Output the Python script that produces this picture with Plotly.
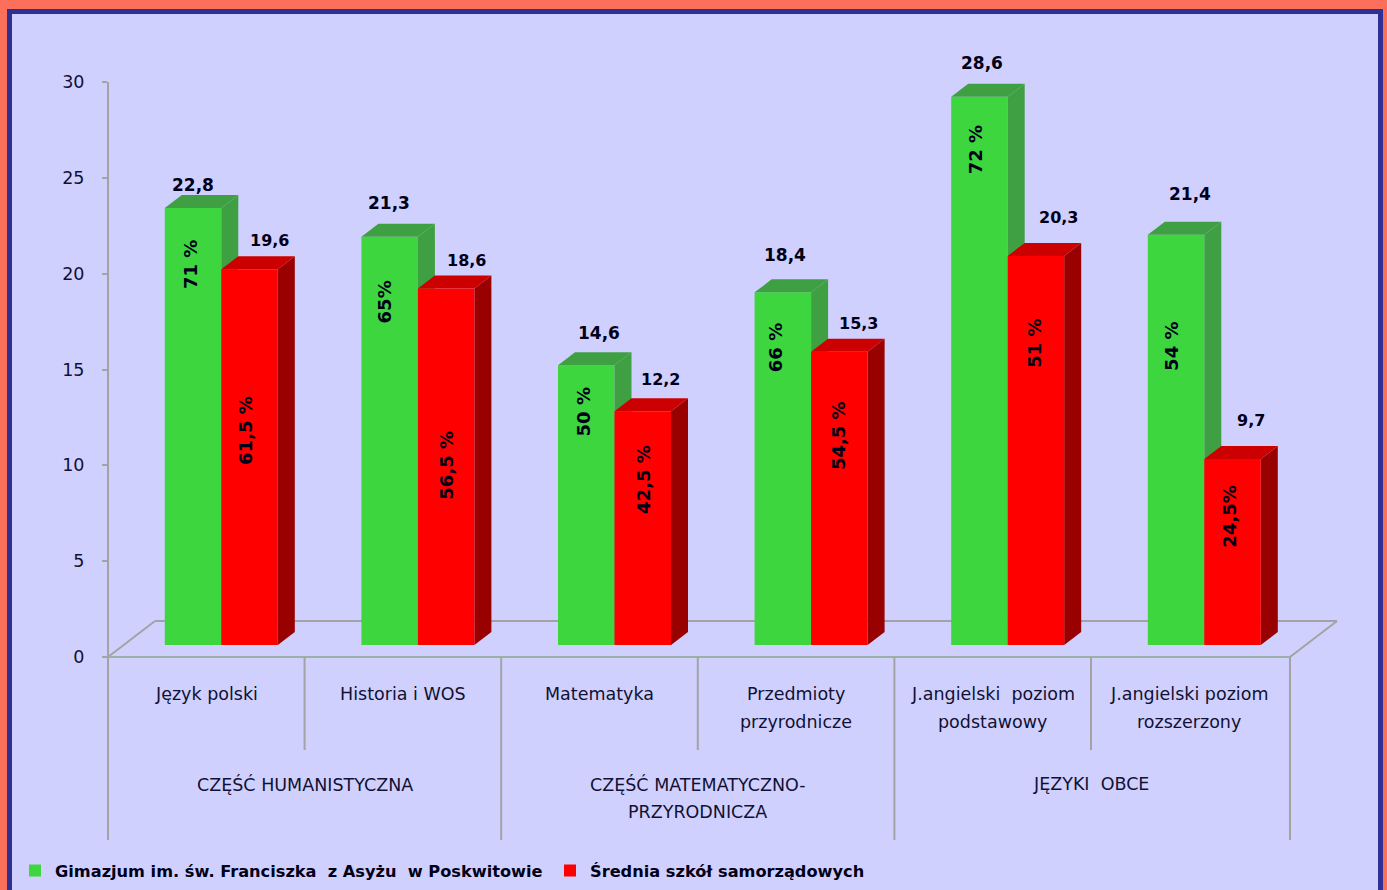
import plotly.graph_objects as go

# ---------- data ----------
categories = [["Język polski"], ["Historia i WOS"], ["Matematyka"],
              ["Przedmioty", "przyrodnicze"], ["J.angielski  poziom", "podstawowy"],
              ["J.angielski poziom", "rozszerzony"]]
groups = [["CZĘŚĆ HUMANISTYCZNA"], ["CZĘŚĆ MATEMATYCZNO-", "PRZYRODNICZA"], ["JĘZYKI  OBCE"]]
series_names = ["Gimazjum im. św. Franciszka  z Asyżu  w Poskwitowie", "Średnia szkół samorządowych"]
school_values = [22.8, 21.3, 14.6, 18.4, 28.6, 21.4]
average_values = [19.6, 18.6, 12.2, 15.3, 20.3, 9.7]
school_value_text = ["22,8", "21,3", "14,6", "18,4", "28,6", "21,4"]
average_value_text = ["19,6", "18,6", "12,2", "15,3", "20,3", "9,7"]
school_pct = ["71 %", "65%", "50 %", "66 %", "72 %", "54 %"]
average_pct = ["61,5 %", "56,5 %", "42,5 %", "54,5 %", "51 %", "24,5%"]
y_ticks = [0, 5, 10, 15, 20, 25, 30]

# ---------- label placement (pixel nudges relative to each bar) ----------
school_val_nudge = [(0, 23), (-1, 34), (13, 32), (2, 37), (3, 34), (14, 41)]
average_val_nudge = [(20, 29), (20, 28), (18, 32), (19, 28), (23, 38), (18, 39)]
school_pct_nudge = [(-3, -57), (-5, -65), (-3, -47), (-8, -55), (-4, -53), (-4, -112)]
average_pct_nudge = [(-4, -161), (0, -177), (0, -68), (-1, -84), (-1, -87), (-3, -58)]

# ---------- style / geometry ----------
W, H = 1387, 890
SALMON, NAVY, LAVENDER, GREY = "#FB6F5B", "#2F3093", "#D0D0FF", "#A3A3A3"
GREEN, GREEN_SIDE, GREEN_TOP = "#3DD63F", "#3FA043", "#3FA043"
RED, RED_SIDE, RED_TOP = "#FF0000", "#990000", "#CC0000"
TXT = "#111133"
FONT = "DejaVu Sans"
CAT_W = 196.6                            # pixel width of one category
X0, Y0, Y1 = 108, 657, 82                # primary plot box in pixels
X1 = X0 + 6 * CAT_W
FLOOR_RIGHT = 1290
SHIFT_X, SHIFT_Y = 15, 12                # front plane of bars vs. axis box
DEPTH_X, DEPTH_Y = 17, 13                # bar depth
FLOOR_X, FLOOR_Y = 47, 36
unit_y = (Y0 - Y1) / 30
BAR_W = 56.5 / CAT_W
dx, dy = DEPTH_X / CAT_W, DEPTH_Y / unit_y


def px(x):
    return x / W


def py(y):
    return 1 - y / H


fig = go.Figure()


def add_face(xs, ys, color, z):
    fig.add_trace(go.Scatter(x=xs, y=ys, mode="lines", fill="toself", fillcolor=color,
                             line=dict(width=0, color=color), hoverinfo="skip", showlegend=False,
                             xaxis="x2", yaxis="y2", zorder=z))


def add_box_faces(left, value, side_color, top_color, z):
    right = left + BAR_W
    add_face([right, right + dx, right + dx, right],
             [0, dy, value + dy, value], side_color, z)
    add_face([left, left + dx, right + dx, right],
             [value, value + dy, value + dy, value], top_color, z)


centers = [i + 0.5 for i in range(6)]
for c, a, b in zip(centers, school_values, average_values):
    add_box_faces(c - BAR_W, a, GREEN_SIDE, GREEN_TOP, 1)
    add_box_faces(c, b, RED_SIDE, RED_TOP, 2)

fig.add_trace(go.Bar(x=centers, y=school_values, name=series_names[0], marker=dict(color=GREEN, line_width=0),
                     xaxis="x2", yaxis="y2", zorder=0))
fig.add_trace(go.Bar(x=centers, y=average_values, name=series_names[1], marker=dict(color=RED, line_width=0),
                     xaxis="x2", yaxis="y2", zorder=3))

# ---------- shapes ----------
shapes = [dict(type="rect", xref="paper", yref="paper", x0=px(9.5), x1=px(1380.5), y0=py(11.5), y1=py(900),
               line=dict(color=NAVY, width=5), fillcolor=LAVENDER, layer="below")]


def line(x0, y0, x1, y1, color=GREY, width=2):
    shapes.append(dict(type="line", xref="paper", yref="paper", x0=px(x0), x1=px(x1), y0=py(y0), y1=py(y1),
                       line=dict(color=color, width=width), layer="below"))


# floor
line(X0, Y0, X0 + FLOOR_X, Y0 - FLOOR_Y)
line(X0 + FLOOR_X, Y0 - FLOOR_Y, FLOOR_RIGHT + FLOOR_X, Y0 - FLOOR_Y)
line(FLOOR_RIGHT, Y0, FLOOR_RIGHT + FLOOR_X, Y0 - FLOOR_Y)
line(X0, Y0, FLOOR_RIGHT, Y0, color="#9DB0A8")
# value axis and category separators
line(X0, Y1, X0, 840)
for i in range(1, 6):
    sep = X0 + i * CAT_W
    line(sep, Y0, sep, 840 if i % 2 == 0 else 750)
line(FLOOR_RIGHT, Y0, FLOOR_RIGHT, 840)

# ---------- annotations ----------
annotations = []


def note(text, x, y, size=17.5, color=TXT):
    annotations.append(dict(text=text, x=x, y=py(y), xref="x", yref="paper",
                            showarrow=False, xanchor="center", yanchor="middle",
                            font=dict(family=FONT, size=size, color=color)))


for c, lines in zip(centers, categories):
    for k, t in enumerate(lines):
        note(t, c, 694 + 28 * k)
for g, lines in zip([1, 3, 5], groups):
    for k, t in enumerate(lines):
        note(t, g, 784 + 28 * k)


def bar_labels(values, texts, nudges, bar_offset, size, bold=False, angle=0, color="#000018"):
    for c, v, t, (nx, ny) in zip(centers, values, texts, nudges):
        annotations.append(dict(text=f"<b>{t}</b>" if bold else t, x=c + bar_offset, y=v, xref="x2", yref="y2",
                                xshift=nx, yshift=ny, showarrow=False, textangle=angle,
                                xanchor="center", yanchor="middle",
                                font=dict(family=FONT, size=size, color=color)))


bar_labels(school_values, school_value_text, school_val_nudge, -BAR_W / 2, 17, bold=True)
bar_labels(average_values, average_value_text, average_val_nudge, BAR_W / 2, 16, bold=True)
bar_labels(school_values, school_pct, school_pct_nudge, -BAR_W / 2, 18, bold=True, angle=-90)
bar_labels(average_values, average_pct, average_pct_nudge, BAR_W / 2, 18, bold=True, angle=-90)

fig.update_layout(
    width=W, height=H, autosize=False,
    margin=dict(l=0, r=0, t=0, b=0, pad=0, autoexpand=False),
    paper_bgcolor=SALMON, plot_bgcolor="rgba(0,0,0,0)",
    barmode="group", bargap=1 - 2 * BAR_W, bargroupgap=0,
    shapes=shapes, annotations=annotations,
    xaxis=dict(domain=[px(X0), px(X1)], range=[0, 6], showticklabels=False, ticks="", showgrid=False,
               zeroline=False, showline=False, anchor="y", fixedrange=True, automargin=False),
    yaxis=dict(domain=[py(Y0), py(Y1)], range=[0, 30], tickvals=y_ticks, ticks="outside", ticklen=5,
               tickwidth=2, tickcolor=GREY, showline=False, showgrid=False,
               zeroline=False, anchor="x", ticklabelstandoff=14, automargin=False,
               tickfont=dict(family=FONT, size=17.5, color=TXT), fixedrange=True),
    xaxis2=dict(domain=[px(X0 + SHIFT_X), px(X1 + SHIFT_X)], range=[0, 6], visible=False,
                anchor="y2", fixedrange=True, automargin=False),
    yaxis2=dict(domain=[py(Y0 - SHIFT_Y), py(Y1 - SHIFT_Y)], range=[0, 30], visible=False,
                anchor="x2", fixedrange=True, automargin=False),
    showlegend=True,
    legend=dict(orientation="h", x=px(15), y=py(871), xanchor="left", yanchor="middle",
                bgcolor="rgba(0,0,0,0)", entrywidth=490, entrywidthmode="pixels",
                traceorder="normal", font=dict(family=FONT, size=16.2, color="#000018", weight="bold")),
)

fig.write_html("out.html", config={"displayModeBar": False},
               post_script="document.body.style.margin='0';document.body.style.overflow='hidden';")
